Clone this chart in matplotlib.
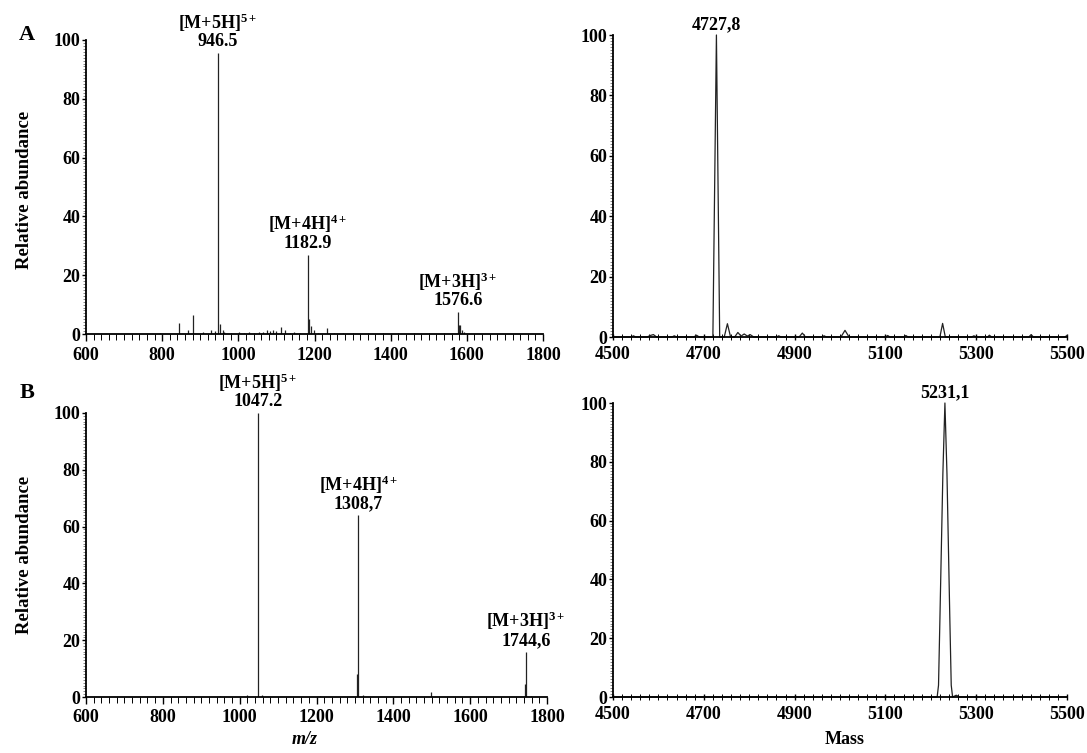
import matplotlib
matplotlib.use('Agg')
import matplotlib.pyplot as plt
from matplotlib.ticker import MultipleLocator

plt.rcParams['font.family'] = ['Liberation Serif', 'DejaVu Serif']
plt.rcParams['font.weight'] = 'bold'
plt.rcParams['mathtext.fontset'] = 'custom'
plt.rcParams['mathtext.rm'] = 'Liberation Serif:bold'
plt.rcParams['mathtext.bf'] = 'Liberation Serif:bold'
plt.rcParams['mathtext.it'] = 'Liberation Serif:bold:italic'

# --- panel A, ESI spectrum (m/z, relative abundance), sticks
mz_a = [793, 845, 867, 882, 906, 927, 940, 946.5, 952, 959, 963, 980, 1001, 1015, 1027,
        1040, 1053, 1064, 1074, 1083, 1091, 1100, 1111, 1122, 1135, 1147, 1162,
        1182.9, 1186, 1192, 1198, 1210, 1232, 1250, 1275, 1300, 1340, 1380, 1420,
        1460, 1500, 1540, 1576.6, 1578.5, 1583, 1588, 1593]
int_a = [0.3, 3.6, 1.2, 6.5, 0.8, 1.2, 1.0, 95.5, 3.5, 1.5, 0.8, 0.4, 0.6, 0.4, 0.6,
         0.5, 0.8, 0.6, 1.2, 0.9, 1.5, 1.0, 2.3, 1.2, 0.5, 0.6, 0.4,
         27.0, 5.0, 2.8, 1.2, 0.5, 2.0, 0.5, 0.3, 0.3, 0.3, 0.3, 0.3,
         0.3, 0.3, 0.3, 7.5, 3.2, 3.0, 1.5, 0.8]
ann_a = [(946.5, 95.5, '[M+5H]$^{5+}$', '946.5'),
         (1182.9, 27.0, '[M+4H]$^{4+}$', '1182.9'),
         (1576.6, 7.5, '[M+3H]$^{3+}$', '1576.6')]

# --- panel A, deconvoluted mass profile
mass_a = [4500, 4540, 4545, 4550, 4575, 4582, 4589, 4596, 4630, 4635, 4640, 4678, 4684,
          4690, 4720, 4727.8, 4735, 4745, 4752, 4759, 4768, 4775, 4782, 4789, 4796,
          4802, 4810, 4860, 4865, 4870, 4910, 4917, 4924, 4960, 4965, 4970, 5002,
          5011, 5020, 5100, 5105, 5110, 5140, 5145, 5150, 5220, 5226, 5232, 5290,
          5295, 5300, 5325, 5329, 5334, 5416, 5421, 5426, 5495, 5500]
prof_a = [0, 0, 0.4, 0, 0, 0.5, 0.8, 0, 0, 0.4, 0, 0, 0.6,
          0, 0, 100, 0, 0, 4.4, 0, 0, 1.5, 0.3, 1.0, 0.3,
          0.8, 0, 0, 0.4, 0, 0, 1.3, 0, 0, 0.4, 0, 0,
          2.2, 0, 0, 0.5, 0, 0, 0.5, 0, 0, 4.5, 0, 0,
          0.4, 0, 0, 0.6, 0, 0, 0.8, 0, 0, 0.5]
ann_ma = [(4727.8, 100, '4727,8')]

# --- panel B, ESI spectrum
mz_b = [950, 1020, 1047.2, 1059, 1208, 1305, 1308.7, 1320, 1498, 1742, 1744.6, 1759]
int_b = [0.5, 0.6, 100, 0.6, 0.4, 8.2, 64, 0.6, 1.8, 4.5, 16, 0.4]
ann_b = [(1047.2, 100, '[M+5H]$^{5+}$', '1047.2'),
         (1308.7, 64, '[M+4H]$^{4+}$', '1308,7'),
         (1744.6, 16, '[M+3H]$^{3+}$', '1744,6')]

# --- panel B, deconvoluted mass profile
mass_b = [4500, 5214, 5217, 5220, 5226.6, 5231.1, 5235.6, 5242, 5245, 5248, 5256, 5264, 5500]
prof_b = [0, 0, 4, 26, 76, 100, 76, 26, 4, 0, 0.6, 0, 0]
ann_mb = [(5231.1, 100, '5231,1')]

mz_ticks = [600, 800, 1000, 1200, 1400, 1600, 1800]
mass_ticks = [4500, 4700, 4900, 5100, 5300, 5500]

W, H = 1087, 753
FS = 13
LINE = '#222222'


def px_axes(fig, left, right, top, bottom):
    return fig.add_axes([left / W, 1 - bottom / H, (right - left) / W, (bottom - top) / H])


def style_axes(ax, xticks, tick_dir):
    ax.set_xlim(xticks[0], xticks[-1])
    ax.set_ylim(0, 100)
    for s in ('top', 'right'):
        ax.spines[s].set_visible(False)
    for s in ('left', 'bottom'):
        ax.spines[s].set_linewidth(1.3)
    ax.set_xticks(xticks)
    ax.xaxis.set_minor_locator(MultipleLocator(20))
    ax.yaxis.set_major_locator(MultipleLocator(20))
    ax.yaxis.set_minor_locator(MultipleLocator(1))
    ax.tick_params(axis='x', which='major', direction=tick_dir, length=5, width=1, labelsize=FS, pad=4)
    ax.tick_params(axis='x', which='minor', direction=tick_dir, length=4, width=0.7)
    ax.tick_params(axis='y', which='major', direction='out', length=3, width=1, labelsize=FS, pad=1)
    ax.tick_params(axis='y', which='minor', direction='out', length=2, width=0.5, color='#555555')
    for lab in ax.get_xticklabels() + ax.get_yticklabels():
        lab.set_fontweight('bold')


def draw_sticks(ax, mz, inten, ann):
    ax.vlines(mz, 0, inten, color=LINE, lw=0.9)
    for x, y, ion, val in ann:
        ax.annotate(ion + '\n' + val, (x, y), xytext=(0, 2), textcoords='offset points',
                    ha='center', va='bottom', fontsize=FS, fontweight='bold',
                    linespacing=0.95, multialignment='center')


def draw_profile(ax, mass, prof, ann):
    ax.plot(mass, prof, color=LINE, lw=0.9, clip_on=False)
    for x, y, val in ann:
        ax.annotate(val, (x, y), xytext=(0, 1), textcoords='offset points',
                    ha='center', va='bottom', fontsize=FS, fontweight='bold')


def main():
    fig = plt.figure(figsize=(W / 100, H / 100), dpi=100)

    ax1 = px_axes(fig, 86, 543, 40, 334)
    style_axes(ax1, mz_ticks, 'out')
    draw_sticks(ax1, mz_a, int_a, ann_a)

    ax2 = px_axes(fig, 613, 1067, 35, 337)
    style_axes(ax2, mass_ticks, 'inout')
    draw_profile(ax2, mass_a, prof_a, ann_ma)

    ax3 = px_axes(fig, 86, 547, 413, 697)
    style_axes(ax3, mz_ticks, 'out')
    draw_sticks(ax3, mz_b, int_b, ann_b)

    ax4 = px_axes(fig, 613, 1067, 403, 697)
    style_axes(ax4, mass_ticks, 'inout')
    draw_profile(ax4, mass_b, prof_b, ann_mb)

    # axis titles placed in figure pixels
    for y in (190, 555):
        fig.text(25 / W, 1 - y / H, 'Relative abundance', rotation=90, fontsize=13.5,
                 fontweight='bold', ha='center', va='center')
    fig.text(305 / W, 1 - 740 / H, 'm/z', fontsize=FS, fontweight='bold', fontstyle='italic',
             ha='center', va='center')
    fig.text(845 / W, 1 - 739 / H, 'Mass', fontsize=FS, fontweight='bold', ha='center', va='center')

    fig.text(27 / W, 1 - 35 / H, 'A', fontsize=16, fontweight='bold', ha='center', va='center')
    fig.text(27 / W, 1 - 393 / H, 'B', fontsize=16, fontweight='bold', ha='center', va='center')

    fig.savefig('out.png', dpi=100)


if __name__ == "__main__":
    main()
